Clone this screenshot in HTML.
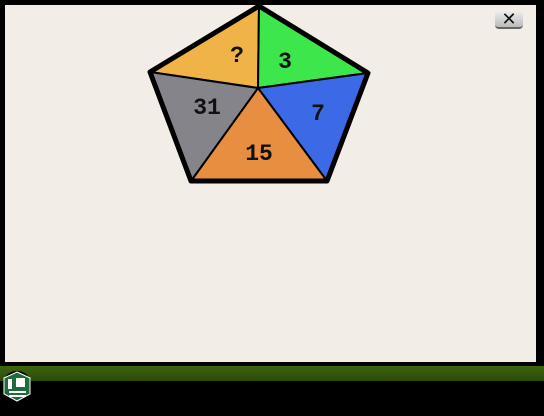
<!DOCTYPE html>
<html><head><meta charset="utf-8"><style>
body{margin:0;width:544px;height:416px;background:#000;overflow:hidden;position:relative;font-family:"Liberation Mono",monospace}
</style></head><body>
<div style="position:absolute;left:5px;top:5px;width:531px;height:357px;background:#f2ede6"></div>
<div style="position:absolute;left:0;top:366px;width:544px;height:15px;background:linear-gradient(#3f6410,#2a4a08)"></div>
<div style="position:absolute;left:495px;top:11px;width:28px;height:18px;border-radius:4px;background:linear-gradient(#eee,#bbb);border-bottom:2px solid #666;box-sizing:border-box;text-align:center;font:18px/16px 'Liberation Sans',sans-serif;color:#111">✕</div>
<svg width="544" height="416" style="position:absolute;left:0;top:0">
<g stroke="#000" stroke-width="2" stroke-linejoin="round">
<polygon points="259,6 150,72 258,88" fill="#f0b348"/>
<polygon points="259,6 368,73 258,88" fill="#3de64a"/>
<polygon points="368,73 327,181 258,88" fill="#3c6ae6"/>
<polygon points="327,181 191,181 258,88" fill="#e88e40"/>
<polygon points="191,181 150,72 258,88" fill="#84848a"/>
<polygon points="259,6 368,73 327,181 191,181 150,72" fill="none" stroke-width="5"/>
</g>
<g font-family="Liberation Mono,monospace" font-size="23" font-weight="bold" fill="#111" text-anchor="middle">
<text x="237" y="62">?</text>
<text x="285" y="68">3</text>
<text x="318" y="120">7</text>
<text x="259" y="160">15</text>
<text x="207" y="114">31</text>
</g>
<g>
<circle cx="17" cy="386" r="15" fill="#000"/>
<polygon points="17,372 30,378 30,394 17,401 4,394 4,378" fill="#1f6b3a" stroke="#fff" stroke-width="1"/>
<rect x="8" y="379" width="4" height="10" fill="#fff"/><rect x="16" y="378" width="9" height="9" fill="#fff"/>
<rect x="9" y="391" width="17" height="2" fill="#fff"/><rect x="9" y="395" width="17" height="2" fill="#fff"/>
</g>
</svg>
</body></html>
